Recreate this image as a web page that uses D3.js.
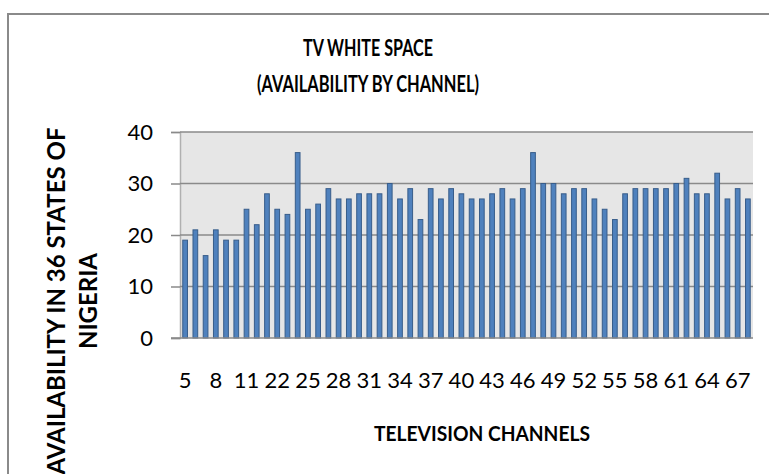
<!DOCTYPE html>
<html>
<head>
<meta charset="utf-8">
<script src="https://cdn.jsdelivr.net/npm/d3@7"></script>
<style>
html,body{margin:0;padding:0;background:#fff;}
svg{display:block;}
text{font-family:Lato,"Noto Sans",sans-serif;fill:#000;}
</style>
</head>
<body>
<svg id="chart" width="769" height="474"></svg>
<script>
const channels = [5,6,7,8,9,10,11,12,21,22,23,24,25,26,27,28,29,30,31,32,33,34,35,36,37,38,39,40,41,42,43,44,45,46,47,48,49,50,51,52,53,54,55,56,57,58,59,60,61,62,63,64,65,66,67,68];
const availability = [19,21,16,21,19,19,25,22,28,25,24,36,25,26,29,27,27,28,28,28,30,27,29,23,29,27,29,28,27,27,28,29,27,29,36,30,30,28,29,29,27,25,23,28,29,29,29,29,30,31,28,28,32,27,29,27];
const yTicks = [0,10,20,30,40];
const titleLines = ["TV WHITE SPACE","(AVAILABILITY BY CHANNEL)"];
const xTitle = "TELEVISION CHANNELS";
const yTitleLines = ["AVAILABILITY IN 36 STATES OF","NIGERIA"];

const svg = d3.select("#chart");
const m = {left:180, right:753, top:132, bottom:338};

// outer chart border
svg.append("rect").attr("x",8).attr("y",14).attr("width",790).attr("height",500)
  .attr("fill","none").attr("stroke","#8a8a8a").attr("stroke-width",2);

const x = d3.scaleBand().domain(channels.map(String)).range([m.left,m.right]).paddingInner(0.54).paddingOuter(0.27);
const y = d3.scaleLinear().domain([0,40]).range([m.bottom,m.top]);

// plot background
svg.append("rect").attr("x",m.left).attr("y",m.top).attr("width",m.right-m.left).attr("height",m.bottom-m.top)
  .attr("fill","#e6e6e6");

// gridlines + y axis
const yAxis = d3.axisLeft(y).tickValues(yTicks).tickSize(9).tickPadding(18);
const gy = svg.append("g").attr("transform",`translate(${m.left},0)`).call(yAxis);
gy.select(".domain").attr("stroke","#b0b0b0").attr("stroke-width",1.5);
gy.selectAll(".tick line").attr("stroke","#8a8a8a").attr("stroke-width",1.5);
gy.selectAll(".tick text").attr("font-size",22).attr("font-family","Lato").attr("fill","#000");
svg.append("g").selectAll("line").data(yTicks.filter(d=>d>0)).join("line")
  .attr("x1",m.left).attr("x2",m.right).attr("y1",d=>y(d)).attr("y2",d=>y(d))
  .attr("stroke","#8a8a8a").attr("stroke-width",1.5);

// bars
svg.append("g").selectAll("rect").data(channels).join("rect")
  .attr("x",(d)=>x(String(d)))
  .attr("y",(d,i)=>y(availability[i]))
  .attr("width",x.bandwidth())
  .attr("height",(d,i)=>y(0)-y(availability[i]))
  .attr("fill","#4f81bd").attr("stroke","#385d8a").attr("stroke-width",1);

// x axis
const xAxis = d3.axisBottom(x).tickValues(channels.filter((d,i)=>i%3===0).map(String)).tickSize(0).tickPadding(34);
const gx = svg.append("g").attr("transform",`translate(0,${m.bottom})`).call(xAxis);
gx.select(".domain").remove();
gx.selectAll(".tick text").attr("font-size",22).attr("font-family","Lato").attr("fill","#000");
svg.append("line").attr("x1",m.left-9).attr("x2",m.right).attr("y1",m.bottom).attr("y2",m.bottom)
  .attr("stroke","#8a8a8a").attr("stroke-width",1.5);

// titles
const titleWidths = [130, 222];
svg.append("g").selectAll("text").data(titleLines).join("text")
  .attr("x",368).attr("y",(d,i)=>56+i*36).attr("text-anchor","middle")
  .attr("font-size",22).attr("font-weight","bold")
  .attr("textLength",(d,i)=>titleWidths[i]).attr("lengthAdjust","spacingAndGlyphs").text(d=>d);

svg.append("text").attr("x",482).attr("y",441).attr("text-anchor","middle")
  .attr("font-size",21).attr("font-weight","bold")
  .attr("textLength",216).attr("lengthAdjust","spacingAndGlyphs").text(xTitle);

svg.append("g").selectAll("text").data(yTitleLines).join("text")
  .attr("transform",(d,i)=>`translate(${65+i*32},301) rotate(-90)`)
  .attr("text-anchor","middle").attr("font-size",24).attr("font-weight","bold").text(d=>d);
</script>
</body>
</html>
